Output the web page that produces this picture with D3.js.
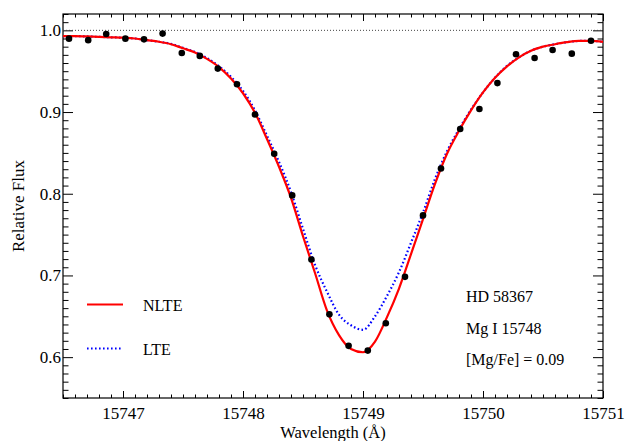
<!DOCTYPE html>
<html>
<head>
<meta charset="utf-8">
<script src="https://cdn.jsdelivr.net/npm/d3@7"></script>
<style>
  html, body { margin: 0; padding: 0; background: #fff; }
  svg { display: block; }
  text { font-family: "Liberation Serif", "Times New Roman", serif; fill: #000; }
</style>
</head>
<body>
<svg id="chart" width="625" height="441"></svg>
<script>
// ---- data ----
const modelWave = [15746.5,15746.6,15746.7,15746.8,15746.9,15747.0,15747.1,15747.2,15747.3,15747.4,
  15747.5,15747.6,15747.7,15747.8,15747.9,15748.0,15748.1,15748.2,15748.3,15748.4,
  15748.5,15748.6,15748.7,15748.8,15748.9,15749.0,15749.1,15749.2,15749.3,15749.4,
  15749.5,15749.6,15749.7,15749.8,15749.9,15750.0,15750.1,15750.2,15750.3,15750.4,
  15750.5,15750.6,15750.7,15750.8,15750.9,15751.0];
const nlteFlux = [0.993,0.993,0.9925,0.992,0.9915,0.991,0.990,0.988,0.986,0.983,
  0.978,0.973,0.965,0.955,0.941,0.923,0.899,0.867,0.833,0.795,
  0.748,0.703,0.657,0.627,0.610,0.606,0.619,0.649,0.684,0.726,
  0.769,0.812,0.849,0.877,0.902,0.924,0.942,0.956,0.967,0.975,
  0.980,0.983,0.9855,0.987,0.987,0.9858];
const lteFlux = [0.993,0.993,0.9925,0.992,0.9915,0.991,0.990,0.988,0.986,0.9835,
  0.9785,0.9735,0.966,0.956,0.943,0.926,0.902,0.871,0.839,0.802,
  0.757,0.713,0.680,0.652,0.639,0.6335,0.650,0.675,0.704,0.740,
  0.777,0.818,0.852,0.879,0.903,0.924,0.942,0.9565,0.967,0.975,
  0.980,0.983,0.9855,0.987,0.987,0.986];
const obsWave = [15746.55,15746.71,15746.86,15747.02,15747.175,15747.33,15747.49,15747.64,15747.79,15747.95,
  15748.10,15748.26,15748.41,15748.57,15748.72,15748.88,15749.04,15749.19,15749.35,15749.50,
  15749.65,15749.81,15749.97,15750.12,15750.275,15750.43,15750.58,15750.74,15750.90];
const obsFlux = [0.9898,0.988,0.9955,0.9898,0.989,0.996,0.9723,0.9687,0.9532,0.934,
  0.897,0.849,0.798,0.7195,0.6524,0.6138,0.608,0.6415,0.6983,0.7735,
  0.8309,0.8793,0.9037,0.9354,0.9707,0.9662,0.976,0.9715,0.9873];
const xTickValues = [15747,15748,15749,15750,15751];
const yTickValues = [0.6,0.7,0.8,0.9,1.0];
const legendLabels = ["NLTE","LTE"];
const annotations = ["HD 58367","Mg I 15748","[Mg/Fe] = 0.09"];

// ---- layout ----
const W = 625, H = 441;
const L = 63, R = 603, T = 14, B = 398;
const svg = d3.select("#chart");

const x = d3.scaleLinear().domain([15746.5, 15751]).range([L, R]);
const y = d3.scaleLinear().domain([0.55, 1.02]).range([B, T]);

svg.append("defs").append("clipPath").attr("id","clip")
  .append("rect").attr("x",L).attr("y",T).attr("width",R-L).attr("height",B-T);

// minor tick values
const xMinor = d3.range(0, 46).map(i => +(15746.5 + i*0.1).toFixed(1)).filter(v => !xTickValues.includes(v));
const yMinor = d3.range(0, 48).map(i => +(0.55 + i*0.01).toFixed(2)).filter(v => !yTickValues.map(d=>d.toFixed(2)).includes(v.toFixed(2)));

function styleAxis(g){
  g.select(".domain").remove();
  g.selectAll("line").attr("stroke","#000").attr("stroke-width",1);
}

// bottom axis (major with labels, minor)
svg.append("g").attr("transform",`translate(0,${B})`)
  .call(d3.axisBottom(x).tickValues(xTickValues).tickSize(-7).tickPadding(9).tickFormat(d3.format("d")))
  .call(styleAxis)
  .call(g => g.selectAll("text").attr("font-size",17).attr("font-family","Liberation Serif"));
svg.append("g").attr("transform",`translate(0,${B})`)
  .call(d3.axisBottom(x).tickValues(xMinor).tickSize(-3.5).tickFormat(""))
  .call(styleAxis);
// top axis
svg.append("g").attr("transform",`translate(0,${T})`)
  .call(d3.axisTop(x).tickValues(xTickValues).tickSize(-7).tickFormat(""))
  .call(styleAxis);
svg.append("g").attr("transform",`translate(0,${T})`)
  .call(d3.axisTop(x).tickValues(xMinor).tickSize(-3.5).tickFormat(""))
  .call(styleAxis);
// left axis
svg.append("g").attr("transform",`translate(${L},0)`)
  .call(d3.axisLeft(y).tickValues(yTickValues).tickSize(-10).tickPadding(2).tickFormat(d3.format(".1f")))
  .call(styleAxis)
  .call(g => g.selectAll("text").attr("font-size",17).attr("font-family","Liberation Serif"));
svg.append("g").attr("transform",`translate(${L},0)`)
  .call(d3.axisLeft(y).tickValues(yMinor).tickSize(-5.5).tickFormat(""))
  .call(styleAxis);
// right axis
svg.append("g").attr("transform",`translate(${R},0)`)
  .call(d3.axisRight(y).tickValues(yTickValues).tickSize(-10).tickFormat(""))
  .call(styleAxis);
svg.append("g").attr("transform",`translate(${R},0)`)
  .call(d3.axisRight(y).tickValues(yMinor).tickSize(-5.5).tickFormat(""))
  .call(styleAxis);

// frame
svg.append("rect").attr("x",L).attr("y",T).attr("width",R-L).attr("height",B-T)
  .attr("fill","none").attr("stroke","#000").attr("stroke-width",1.2);

// continuum dotted line
svg.append("line").attr("x1",L).attr("x2",R).attr("y1",y(1.0)).attr("y2",y(1.0))
  .attr("stroke","#444").attr("stroke-width",1).attr("stroke-dasharray","1,2");

const plot = svg.append("g").attr("clip-path","url(#clip)");
const line = d3.line().x(d => x(d[0])).y(d => y(d[1])).curve(d3.curveMonotoneX);

plot.append("path").datum(modelWave.map((w,i)=>[w,lteFlux[i]]))
  .attr("d",line).attr("fill","none").attr("stroke","#0000ff")
  .attr("stroke-width",2.2).attr("stroke-dasharray","1.6,2.4");

plot.append("path").datum(modelWave.map((w,i)=>[w,nlteFlux[i]]))
  .attr("d",line).attr("fill","none").attr("stroke","#ff0000").attr("stroke-width",2.2);

plot.selectAll("circle").data(obsWave.map((w,i)=>[w,obsFlux[i]])).enter()
  .append("circle").attr("cx",d=>x(d[0])).attr("cy",d=>y(d[1])).attr("r",3.3).attr("fill","#000");

// legend
const legendY = [304.5, 348.5];
svg.append("line").attr("x1",87).attr("x2",123).attr("y1",legendY[0]).attr("y2",legendY[0])
  .attr("stroke","#ff0000").attr("stroke-width",2.2);
svg.append("line").attr("x1",87).attr("x2",121).attr("y1",legendY[1]).attr("y2",legendY[1])
  .attr("stroke","#0000ff").attr("stroke-width",2.2).attr("stroke-dasharray","1.6,2.4");
legendLabels.forEach((t,i)=>{
  svg.append("text").attr("x",143).attr("y",legendY[i]+6).attr("font-size",16).text(t);
});

// annotations
const annY = [302, 334, 365];
annotations.forEach((t,i)=>{
  svg.append("text").attr("x",466).attr("y",annY[i]).attr("font-size",16).text(t);
});

// axis titles
svg.append("text").attr("x",(L+R)/2).attr("y",438).attr("text-anchor","middle")
  .attr("font-size",16.5).text("Wavelength (Å)");
svg.append("text").attr("transform",`translate(24,${(T+B)/2}) rotate(-90)`)
  .attr("text-anchor","middle").attr("font-size",17).text("Relative Flux");
</script>
</body>
</html>
